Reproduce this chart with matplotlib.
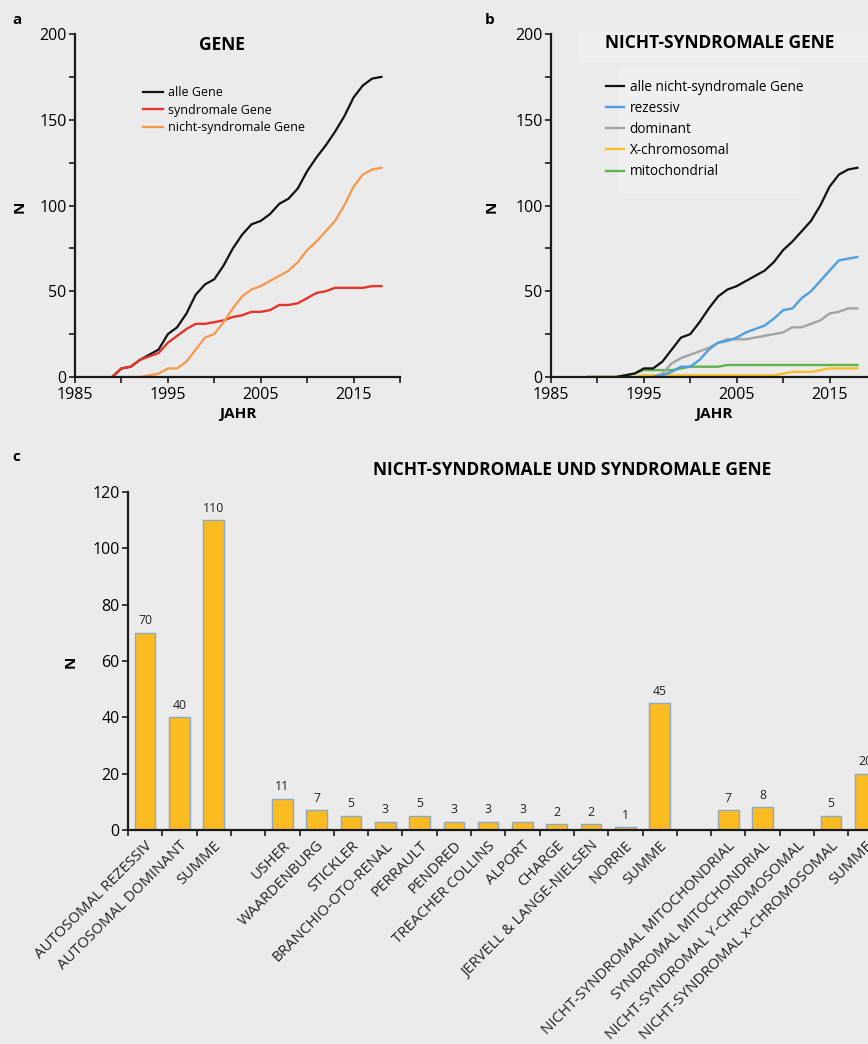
import matplotlib
matplotlib.use("Agg")
import matplotlib.pyplot as plt
from matplotlib import font_manager
from matplotlib.patches import Rectangle
from matplotlib.transforms import ScaledTranslation

# ---- Fonts ----
installed = {f.name for f in font_manager.fontManager.ttflist}
base_font = "Open Sans" if "Open Sans" in installed else "DejaVu Sans"
plt.rcParams["font.family"] = [base_font, "DejaVu Sans"]

# ---- Data: panel a ----
years = list(range(1989, 2019))
alle_gene = [0, 5, 6, 10, 13, 16, 25, 29, 37, 48, 54, 57, 65, 75, 83, 89, 91, 95,
             101, 104, 110, 120, 128, 135, 143, 152, 163, 170, 174, 175]
syndromale_gene = [0, 5, 6, 10, 12, 14, 20, 24, 28, 31, 31, 32, 33, 35, 36, 38, 38, 39,
                   42, 42, 43, 46, 49, 50, 52, 52, 52, 52, 53, 53]
nicht_syndromale_gene = [0, 0, 0, 0, 1, 2, 5, 5, 9, 16, 23, 25, 32, 40, 47, 51, 53, 56,
                         59, 62, 67, 74, 79, 85, 91, 100, 111, 118, 121, 122]

# ---- Data: panel b ----
years_rd = list(range(1996, 2019))
rezessiv = [0, 1, 3, 6, 6, 10, 16, 20, 21, 23, 26, 28, 30, 34, 39, 40, 46, 50, 56, 62, 68, 69, 70]
dominant = [0, 2, 8, 11, 13, 15, 17, 20, 22, 22, 22, 23, 24, 25, 26, 29, 29, 31, 33, 37, 38, 40, 40]
x_chromosomal = [0, 0, 0, 0, 0, 0, 1, 1, 1, 1, 1, 1, 1, 1, 1, 1, 1, 1, 1, 1,
                 1, 2, 3, 3, 3, 4, 5, 5, 5, 5]
mitochondrial = [0, 0, 0, 0, 1, 2, 4, 4, 4, 4, 5, 6, 6, 6, 6,
                 7, 7, 7, 7, 7, 7, 7, 7, 7, 7, 7, 7, 7, 7, 7]

# ---- Data: panel c ----
categories = ["AUTOSOMAL REZESSIV", "AUTOSOMAL DOMINANT", "SUMME", "",
              "USHER", "WAARDENBURG", "STICKLER", "BRANCHIO-OTO-RENAL", "PERRAULT",
              "PENDRED", "TREACHER COLLINS", "ALPORT", "CHARGE",
              "JERVELL & LANGE-NIELSEN", "NORRIE", "SUMME", "",
              "NICHT-SYNDROMAL MITOCHONDRIAL", "SYNDROMAL MITOCHONDRIAL",
              "NICHT-SYNDROMAL Y-CHROMOSOMAL", "NICHT-SYNDROMAL x-CHROMOSOMAL", "SUMME"]
counts = [70, 40, 110, None, 11, 7, 5, 3, 5, 3, 3, 3, 2, 2, 1, 45, None, 7, 8, 0, 5, 20]

# ---- Colours ----
bg = "#ebebeb"
c_red = "#e4352c"
c_orange = "#f4984a"
c_blue = "#4d9fe0"
c_gray = "#a3a3a3"
c_yellow = "#fbbd2a"
c_green = "#5db54b"
bar_color = "#fdbb22"
bar_edge = "#8ea8bf"

W, H = 868, 1044
fig = plt.figure(figsize=(W / 100, H / 100), dpi=100, facecolor=bg)


def fx(px):
    return px / W


def fy(py):
    return 1 - py / H


# lighter boxes behind the title and legend of panel b
fig.patches.append(Rectangle((fx(579), fy(62)), fx(868 - 579), (62 - 32) / H,
                             transform=fig.transFigure, color="#f0f0f0", zorder=-5))
fig.patches.append(Rectangle((fx(619), fy(193)), fx(799 - 619), (193 - 67) / H,
                             transform=fig.transFigure, color="#f0f0f0", zorder=-5))


def style_line_axes(ax):
    ax.set_facecolor("none")
    ax.set_zorder(2)
    ax.set_xlim(1985, 2020)
    ax.set_ylim(0, 200)
    ax.set_xticks([1985, 1995, 2005, 2015])
    ax.set_xticks([1990, 2000, 2010, 2020], minor=True)
    ax.set_yticks([0, 50, 100, 150, 200])
    ax.set_yticks([25, 75, 125, 175], minor=True)
    for s in ["top", "right"]:
        ax.spines[s].set_visible(False)
    for s in ["left", "bottom"]:
        ax.spines[s].set_linewidth(1.6)
        ax.spines[s].set_color("#1a1a1a")
    ax.tick_params(which="both", direction="out", length=4, width=1.2, color="#1a1a1a",
                   labelsize=11.5)
    ax.tick_params(axis="x", pad=3)
    ax.tick_params(axis="y", pad=2)
    ax.set_xlabel("JAHR", fontsize=11, fontweight="bold", labelpad=3)
    ax.margins(0)


# ---- Panel a ----
ax_a = fig.add_axes([fx(75), fy(377), fx(325), 343 / H])
style_line_axes(ax_a)
ax_a.plot(years, alle_gene, color="#111111", lw=1.6, label="alle Gene")
ax_a.plot(years, syndromale_gene, color=c_red, lw=1.7, label="syndromale Gene")
ax_a.plot(years[1:], nicht_syndromale_gene[1:], color=c_orange, lw=1.6,
          label="nicht-syndromale Gene")
ax_a.legend(loc="upper left", bbox_to_anchor=(fx(137), fy(80)), bbox_transform=fig.transFigure,
            frameon=False, fontsize=9, handlelength=1.6, handletextpad=0.4, labelspacing=0.35,
            borderpad=0)

# ---- Panel b ----
ax_b = fig.add_axes([fx(551), fy(377), fx(325), 343 / H])
style_line_axes(ax_b)
ax_b.plot(years, x_chromosomal, color=c_yellow, lw=1.7, label="X-chromosomal")
ax_b.plot(years, mitochondrial, color=c_green, lw=1.7, label="mitochondrial")
ax_b.plot(years_rd, dominant, color=c_gray, lw=1.7, label="dominant")
ax_b.plot(years_rd, rezessiv, color=c_blue, lw=1.7, label="rezessiv")
ax_b.plot(years, nicht_syndromale_gene, color="#111111", lw=1.6, label="alle nicht-syndromale Gene")
h, l = ax_b.get_legend_handles_labels()
order = [4, 3, 2, 0, 1]
ax_b.legend([h[i] for i in order], [l[i] for i in order], loc="upper left",
            bbox_to_anchor=(fx(599), fy(73)), bbox_transform=fig.transFigure,
            frameon=False, fontsize=9.8, handlelength=1.3, handletextpad=0.45,
            labelspacing=0.45, borderpad=0)

# ---- Panel c ----
ax_c = fig.add_axes([fx(128), fy(830), fx(34.3 * 22), 338 / H])
ax_c.set_facecolor("none")
ax_c.set_zorder(2)
n = len(categories)
for i, v in enumerate(counts):
    if v is None:
        continue
    ax_c.bar(i + 0.5, v, width=0.6, color=bar_color, edgecolor=bar_edge, linewidth=1.0, zorder=2)
    if v > 0:
        ax_c.annotate(str(v), (i + 0.5, v), xytext=(0, 4), textcoords="offset points",
                      ha="center", va="bottom", fontsize=8.8, color="#222222")
ax_c.set_xlim(0, n)
ax_c.set_ylim(0, 120)
ax_c.set_yticks(range(0, 121, 20))
ax_c.set_xticks(range(0, n + 1))
ax_c.set_xticklabels([])
ax_c.set_xticks([i + 0.5 for i in range(n)], minor=True)
ax_c.set_xticklabels(categories, minor=True, rotation=45, ha="right", va="top",
                     rotation_mode="anchor", fontsize=10.8, color="#222222")
shift = ScaledTranslation(6 / 100, 0, fig.dpi_scale_trans)
for lbl in ax_c.get_xticklabels(minor=True):
    lbl.set_transform(lbl.get_transform() + shift)
for s in ["top", "right"]:
    ax_c.spines[s].set_visible(False)
for s in ["left", "bottom"]:
    ax_c.spines[s].set_linewidth(1.6)
    ax_c.spines[s].set_color("#1a1a1a")
ax_c.tick_params(axis="both", which="major", direction="out", length=4, width=1.2,
                 color="#1a1a1a", labelsize=11.5, pad=2)
ax_c.tick_params(axis="x", which="minor", length=0, pad=6)

# ---- Texts ----
fig.text(fx(12), fy(20), "a", fontsize=11, fontweight="bold", va="center", ha="left")
fig.text(fx(485), fy(20), "b", fontsize=11, fontweight="bold", va="center", ha="left")
fig.text(fx(12), fy(457), "c", fontsize=11, fontweight="bold", va="center", ha="left")
fig.text(fx(222), fy(45), "GENE", fontsize=12.5, fontweight="bold", ha="center", va="center")
fig.text(fx(720), fy(43), "NICHT-SYNDROMALE GENE", fontsize=12.5, fontweight="bold",
         ha="center", va="center")
fig.text(fx(572), fy(470), "NICHT-SYNDROMALE UND SYNDROMALE GENE", fontsize=12.5,
         fontweight="bold", ha="center", va="center")
fig.text(fx(20), fy(207), "N", fontsize=11, fontweight="bold", rotation=90, ha="center", va="center")
fig.text(fx(492), fy(207), "N", fontsize=11, fontweight="bold", rotation=90, ha="center", va="center")
fig.text(fx(71), fy(662), "N", fontsize=11, fontweight="bold", rotation=90, ha="center", va="center")

fig.savefig("out.png", dpi=100, facecolor=bg)
